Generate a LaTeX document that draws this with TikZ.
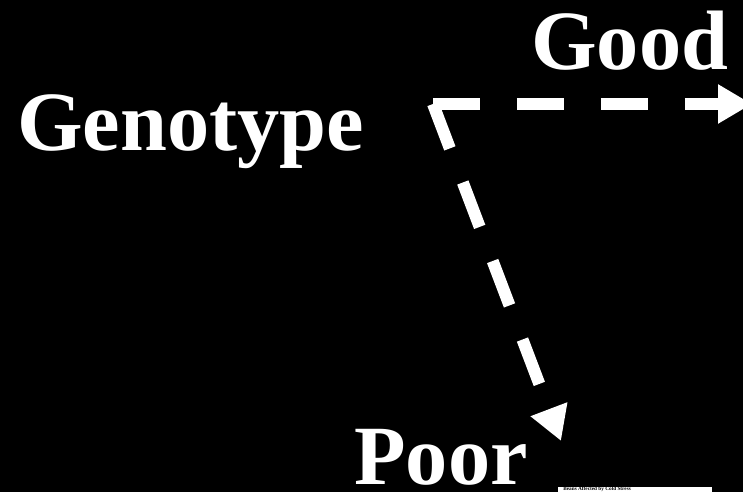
\documentclass[tikz,border=0pt]{standalone}
\usepackage{fontspec}
\setmainfont{Liberation Serif}
\usetikzlibrary{arrows.meta}

\begin{document}
\begin{tikzpicture}[x=0.02cm, y=-0.02cm, >={Triangle[length=0.68cm, width=0.74cm]},
  label/.style={white, font=\bfseries\fontsize{48}{48}\selectfont, inner sep=0pt, anchor=base west},
  branch/.style={white, line width=0.24cm, dash pattern=on 0.95cm off 0.73cm, ->}]
\fill[black] (0,0) rectangle (743,492);
\useasboundingbox (0,0) rectangle (743,492);

% labels
\node[label] (geno) at (17,151) {Genotype};
\node[label] (good) at (531,70) {Good};
\node[label] (poor) at (354,484) {Poor};

% arrows
\coordinate (split) at (433,104);
\coordinate (goodtip) at (752,104);
\coordinate (poortip) at (561,441);
\draw[branch] (split) -- (goodtip);
\draw[branch] (split) -- (poortip);

% cut-off figure at the bottom
\fill[white] (558,487) rectangle (712,495);
\node[black, font=\fontsize{3}{3}\selectfont\bfseries, inner sep=0pt, anchor=west] (fig) at (563,489.5) {Beans Affected by Cold Stress};
\end{tikzpicture}
\end{document}
